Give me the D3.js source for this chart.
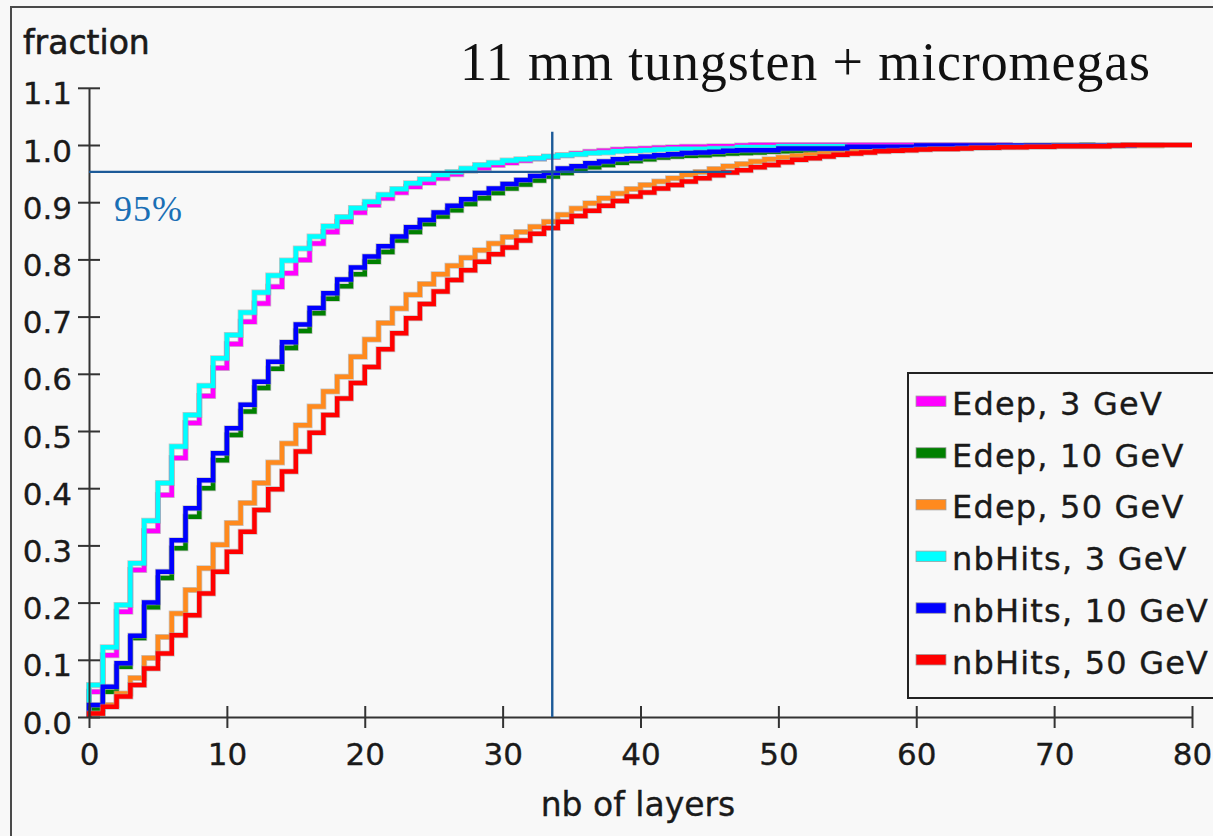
<!DOCTYPE html>
<html>
<head>
<meta charset="utf-8">
<script src="https://cdn.jsdelivr.net/npm/d3@7"></script>
<style>
  html, body { margin: 0; padding: 0; background: #f8f8f8; }
  svg { display: block; }
</style>
</head>
<body>
<svg id="chart" width="1213" height="836"></svg>
<script>
// Cumulative fraction of the shower contained within the first N layers
// (one value per layer bin, starting at layer 0).
const edep3 = [
  0.044, 0.108, 0.184, 0.257, 0.325, 0.388, 0.453, 0.514, 0.561, 0.610,
  0.652, 0.691, 0.723, 0.752, 0.776, 0.799, 0.828, 0.848, 0.866, 0.882,
  0.895, 0.907, 0.917, 0.927, 0.934, 0.942, 0.949, 0.955, 0.960, 0.965,
  0.969, 0.973, 0.976, 0.979, 0.982, 0.985, 0.988, 0.990, 0.992, 0.993,
  0.994, 0.995, 0.996, 0.997, 0.997, 0.998, 0.998, 0.999, 1.000, 1.000,
  1.000, 1.000, 1.000, 1.000, 1.000, 1.000, 1.000, 1.000, 1.000, 1.000,
  1.000, 1.000, 1.000, 1.000, 1.000, 1.000, 1.000
];
const edep10 = [
  0.014, 0.044, 0.088, 0.138, 0.192, 0.243, 0.295, 0.350, 0.400, 0.449,
  0.493, 0.534, 0.575, 0.609, 0.645, 0.675, 0.706, 0.731, 0.753, 0.774,
  0.796, 0.813, 0.833, 0.848, 0.862, 0.875, 0.886, 0.897, 0.907, 0.916,
  0.924, 0.931, 0.938, 0.945, 0.951, 0.956, 0.961, 0.965, 0.969, 0.972,
  0.975, 0.978, 0.980, 0.981, 0.982, 0.984, 0.985, 0.986, 0.987, 0.988,
  0.989, 0.990, 0.991, 0.992, 0.993, 0.993, 0.994, 0.995, 0.995, 0.996,
  0.996, 0.997, 0.997, 0.997, 0.998, 0.998, 0.998, 0.998, 0.999, 0.999,
  0.999, 0.999, 1.000
];
const edep50 = [
  0.006, 0.021, 0.041, 0.068, 0.103, 0.140, 0.181, 0.222, 0.260, 0.301,
  0.339, 0.374, 0.409, 0.445, 0.478, 0.510, 0.543, 0.569, 0.595, 0.630,
  0.660, 0.689, 0.714, 0.738, 0.757, 0.774, 0.789, 0.803, 0.816, 0.828,
  0.839, 0.848, 0.857, 0.866, 0.878, 0.889, 0.898, 0.907, 0.915, 0.923,
  0.930, 0.936, 0.942, 0.948, 0.953, 0.958, 0.963, 0.967, 0.971, 0.975,
  0.978, 0.981, 0.983, 0.985, 0.987, 0.989, 0.990, 0.991, 0.992, 0.993,
  0.994, 0.995, 0.995, 0.996, 0.996, 0.997, 0.997, 0.998, 0.998, 0.998,
  0.999, 0.999, 0.999, 0.999, 0.999, 0.999, 0.999, 0.999
];
const nbHits3 = [
  0.056, 0.122, 0.196, 0.269, 0.343, 0.409, 0.473, 0.528, 0.579, 0.627,
  0.668, 0.707, 0.742, 0.772, 0.798, 0.819, 0.840, 0.858, 0.874, 0.890,
  0.901, 0.913, 0.923, 0.933, 0.940, 0.948, 0.953, 0.959, 0.965, 0.969,
  0.973, 0.975, 0.977, 0.980, 0.982, 0.984, 0.986, 0.987, 0.989, 0.990,
  0.991, 0.992, 0.993, 0.993, 0.993, 0.994, 0.994, 0.996, 0.996, 0.996,
  0.998, 0.998, 0.998, 0.998, 0.998
];
const nbHits10 = [
  0.021, 0.053, 0.094, 0.142, 0.200, 0.254, 0.309, 0.365, 0.414, 0.461,
  0.505, 0.546, 0.586, 0.621, 0.655, 0.686, 0.715, 0.741, 0.765, 0.786,
  0.805, 0.823, 0.840, 0.856, 0.869, 0.882, 0.894, 0.905, 0.916, 0.924,
  0.932, 0.939, 0.946, 0.951, 0.959, 0.963, 0.968, 0.971, 0.975, 0.977,
  0.980, 0.982, 0.984, 0.986, 0.987, 0.988, 0.990, 0.991, 0.991, 0.991,
  0.994, 0.994, 0.994, 0.994, 0.994, 0.997, 0.997, 0.997, 0.997, 0.997,
  0.999, 0.999, 0.999, 0.999, 0.999, 0.999, 0.999, 0.999, 0.999, 0.999,
  0.999, 0.999, 0.999, 0.999, 0.999, 0.999
];
const nbHits50 = [
  0.006, 0.018, 0.036, 0.056, 0.085, 0.111, 0.143, 0.178, 0.216, 0.254,
  0.289, 0.324, 0.362, 0.398, 0.429, 0.464, 0.497, 0.528, 0.557, 0.584,
  0.612, 0.643, 0.671, 0.697, 0.722, 0.744, 0.764, 0.781, 0.796, 0.809,
  0.821, 0.833, 0.845, 0.855, 0.866, 0.876, 0.885, 0.894, 0.902, 0.910,
  0.917, 0.924, 0.930, 0.936, 0.942, 0.947, 0.952, 0.956, 0.961, 0.965,
  0.970, 0.974, 0.977, 0.980, 0.983, 0.985, 0.987, 0.989, 0.990, 0.991,
  0.992, 0.993, 0.993, 0.994, 0.995, 0.995, 0.996, 0.996, 0.997, 0.997,
  0.998, 0.998, 0.998, 0.998, 0.999, 1.000, 1.000, 1.000, 1.000, 1.000
];

const seriesLabels = ["Edep, 3 GeV", "Edep, 10 GeV", "Edep, 50 GeV",
                      "nbHits, 3 GeV", "nbHits, 10 GeV", "nbHits, 50 GeV"];
const seriesValues = [edep3, edep10, edep50, nbHits3, nbHits10, nbHits50];
const seriesColors = ["#ff00ff", "#008000", "#ff8a1e", "#00ffff", "#0000ff", "#ff0000"];

const xTicks = [0, 10, 20, 30, 40, 50, 60, 70, 80];
const yTicks = [0.0, 0.1, 0.2, 0.3, 0.4, 0.5, 0.6, 0.7, 0.8, 0.9, 1.0, 1.1];

// 95 % containment marker
const containment = 0.953;       // horizontal level
const containmentLayer = 33.6;   // vertical marker position (layers)
const containmentLineEnd = 46.6; // horizontal marker extent (layers)
const markerTop = 1.023;         // top of the vertical marker (fraction)

const titleText = "11 mm tungsten + micromegas";
const yTitle = "fraction";
const xTitle = "nb of layers";
const markerLabel = "95%";

const svg = d3.select("#chart");
const W = 1213, H = 836;
const sans = "'DejaVu Sans', 'Noto Sans', sans-serif";
const serif = "'Liberation Serif', 'DejaVu Serif', serif";
const ink = "#1a1a1a";

svg.append("rect").attr("width", W).attr("height", H).attr("fill", "#f8f8f8");

// outer panel frame
svg.append("rect")
  .attr("x", 11).attr("y", 7).attr("width", W + 20).attr("height", H + 20)
  .attr("fill", "none").attr("stroke", "#4a4a4a").attr("stroke-width", 2);

const x = d3.scaleLinear().domain([0, 80]).range([89, 1192]);
const y = d3.scaleLinear().domain([0, 1.1]).range([717, 717 - 1.1 * 572]);

// step curves
const line = d3.line()
  .x(d => x(d[0]))
  .y(d => y(d[1]))
  .curve(d3.curveStepAfter);

function stepPoints(vals) {
  const pts = [[0, 0]];
  vals.forEach((v, i) => pts.push([i, v]));
  pts.push([vals.length, vals[vals.length - 1]]);
  return pts;
}

const curves = svg.append("g");
seriesValues.forEach((vals, i) => {
  const d = line(stepPoints(vals));
  curves.append("path")
    .attr("d", d).attr("fill", "none")
    .attr("stroke", "#9a9a9a").attr("stroke-opacity", 0.55)
    .attr("stroke-width", 6).attr("stroke-linejoin", "miter");
  curves.append("path")
    .attr("d", d).attr("fill", "none")
    .attr("stroke", seriesColors[i])
    .attr("stroke-width", 4.5).attr("stroke-linejoin", "miter");
});

// axes
const yAxis = svg.append("g")
  .attr("transform", `translate(${x(0)},0)`)
  .call(d3.axisLeft(y).tickValues(yTicks).tickFormat(d3.format(".1f"))
        .tickSizeInner(11).tickSizeOuter(0).tickPadding(6));
yAxis.select(".domain").attr("stroke", "#333").attr("stroke-width", 2);
yAxis.selectAll(".tick line").attr("x1", 11).attr("stroke", "#333").attr("stroke-width", 2);
yAxis.selectAll(".tick text")
  .attr("dy", null).attr("y", 16)
  .attr("fill", ink).attr("stroke", ink).attr("stroke-width", 0.35)
  .style("font-family", sans).style("font-size", "31px");

const xAxis = svg.append("g")
  .attr("transform", `translate(0,${y(0)})`)
  .call(d3.axisBottom(x).tickValues(xTicks).tickFormat(d3.format("d"))
        .tickSizeInner(11).tickSizeOuter(0).tickPadding(6));
xAxis.select(".domain").attr("stroke", "#333").attr("stroke-width", 2);
xAxis.selectAll(".tick line").attr("y1", -11).attr("stroke", "#333").attr("stroke-width", 2);
xAxis.selectAll(".tick text")
  .attr("dy", null).attr("y", 48)
  .attr("fill", ink).attr("stroke", ink).attr("stroke-width", 0.35)
  .style("font-family", sans).style("font-size", "31px");

// axis titles
svg.append("text").text(yTitle)
  .attr("x", 23).attr("y", 54)
  .attr("fill", ink).attr("stroke", ink).attr("stroke-width", 0.6)
  .style("font-family", sans).style("font-size", "33px");
svg.append("text").text(xTitle)
  .attr("x", 638).attr("y", 816).attr("text-anchor", "middle")
  .attr("fill", ink).attr("stroke", ink).attr("stroke-width", 0.35)
  .style("font-family", sans).style("font-size", "33px");

// title
svg.append("text").text(titleText)
  .attr("x", 460).attr("y", 80)
  .attr("textLength", 690).attr("lengthAdjust", "spacing")
  .attr("fill", "#111").style("font-family", serif).style("font-size", "54px");

// legend
const legend = svg.append("g");
legend.append("rect")
  .attr("x", 908).attr("y", 373).attr("width", 340).attr("height", 325)
  .attr("fill", "#f8f8f8").attr("stroke", "#222").attr("stroke-width", 2);
seriesLabels.forEach((lab, i) => {
  const base = 415 + i * 51.7;
  legend.append("rect")
    .attr("x", 916).attr("y", base - 19).attr("width", 30).attr("height", 10.5)
    .attr("fill", seriesColors[i]).attr("stroke", "#a0a0a0").attr("stroke-width", 0.8);
  legend.append("text").text(lab)
    .attr("x", 952).attr("y", base)
    .attr("fill", ink).attr("stroke", ink).attr("stroke-width", 0.35)
    .style("font-family", sans).style("font-size", "32px")
    .style("letter-spacing", "1.2px");
});

// 95 % containment marker lines
const markColor = "#1c5a98";
svg.append("line")
  .attr("x1", x(0)).attr("x2", x(containmentLineEnd))
  .attr("y1", y(containment)).attr("y2", y(containment))
  .attr("stroke", markColor).attr("stroke-width", 2.4);
svg.append("line")
  .attr("x1", x(containmentLayer)).attr("x2", x(containmentLayer))
  .attr("y1", y(markerTop)).attr("y2", y(0))
  .attr("stroke", markColor).attr("stroke-width", 2.4);
svg.append("text").text(markerLabel)
  .attr("x", 114).attr("y", 221)
  .attr("textLength", 68).attr("lengthAdjust", "spacing")
  .attr("fill", "#1a6fb5").style("font-family", serif).style("font-size", "36px");
</script>
</body>
</html>
